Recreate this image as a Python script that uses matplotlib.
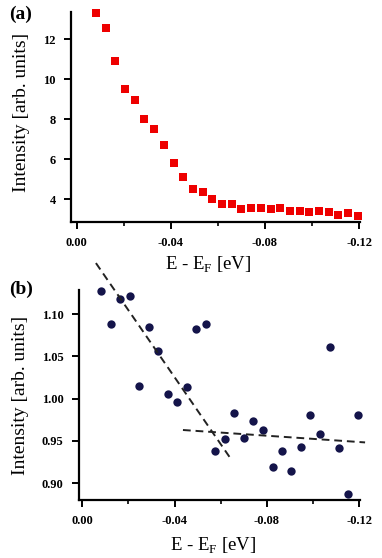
import numpy as np
import matplotlib
matplotlib.use('Agg')
import matplotlib.pyplot as plt
from matplotlib.ticker import MultipleLocator

plt.rcParams['font.family'] = ['Liberation Serif', 'DejaVu Serif']

# Energy axis (E - E_F, eV), same grid for both panels
energy = [-0.0083, -0.0124, -0.0165, -0.0206, -0.0247, -0.0288, -0.0330,
          -0.0371, -0.0412, -0.0453, -0.0494, -0.0535, -0.0577, -0.0618,
          -0.0659, -0.0700, -0.0741, -0.0783, -0.0824, -0.0865, -0.0906,
          -0.0947, -0.0988, -0.1030, -0.1071, -0.1112, -0.1153, -0.1194]

# Panel (a): intensity
intensity_a = [13.33, 12.58, 10.90, 9.50, 8.95, 8.00, 7.52, 6.73, 5.80, 5.10,
               4.50, 4.35, 4.02, 3.77, 3.77, 3.50, 3.55, 3.55, 3.52, 3.55,
               3.42, 3.42, 3.33, 3.40, 3.33, 3.18, 3.30, 3.13]

# Panel (b): normalised intensity
intensity_b = [1.128, 1.089, 1.118, 1.122, 1.015, 1.085, 1.056, 1.006, 0.996,
               1.014, 1.082, 1.089, 0.938, 0.952, 0.983, 0.954, 0.974, 0.963,
               0.919, 0.938, 0.914, 0.943, 0.981, 0.958, 1.061, 0.941, 0.887,
               0.981]

# dashed fit lines in panel (b): endpoints
fit1_x = [-0.0059, -0.0640]
fit1_y = [1.1606, 0.9301]
fit2_x = [-0.0436, -0.1225]
fit2_y = [0.9629, 0.9482]

xticks = [0.00, -0.04, -0.08, -0.12]
xticklabels = ['0.00', '-0.04', '-0.08', '-0.12']

W, H = 382, 558
fig = plt.figure(figsize=(W / 100, H / 100), dpi=100)
fig.patch.set_facecolor('white')

ax_a = fig.add_axes([71 / W, 1 - 222 / H, 289 / W, 210 / H])
ax_b = fig.add_axes([79 / W, 1 - 500 / H, 281 / W, 210 / H])


def style(ax):
    for s in ['top', 'right']:
        ax.spines[s].set_visible(False)
    for s in ['left', 'bottom']:
        ax.spines[s].set_linewidth(1.6)
    ax.set_xticks(xticks)
    ax.set_xticklabels(xticklabels)
    ax.xaxis.set_minor_locator(MultipleLocator(0.02))
    ax.tick_params(which='major', direction='out', length=5, width=1.4,
                   labelsize=9, pad=6)
    ax.tick_params(which='minor', axis='x', direction='out', length=3, width=1.2)
    for lab in ax.get_xticklabels() + ax.get_yticklabels():
        lab.set_fontweight('bold')
    ax.set_xlabel(r'E - E$_{\mathregular{F}}$ [eV]', fontsize=13.5)
    ax.set_ylabel('Intensity [arb. units]', fontsize=14)


# --- Panel (a) ---
ax_a.plot(energy, intensity_a, 's', color='#ee0000', markersize=5.2,
          markeredgewidth=0, clip_on=False)
ax_a.set_xlim(0.0024, -0.1204)
ax_a.set_ylim(2.85, 13.37)
ax_a.set_yticks([4, 6, 8, 10, 12])
style(ax_a)
ax_a.xaxis.set_label_coords(0.474, -0.155)
ax_a.yaxis.set_label_coords(-0.143, 0.52)
fig.text(9 / W, 1 - 14 / H, '(a)', fontsize=14, fontweight='bold',
         va='center', ha='left')

# --- Panel (b) ---
ax_b.plot(energy, intensity_b, 'o', color='#14144a', markersize=6,
          markeredgewidth=0, clip_on=False)
ax_b.plot(fit1_x, fit1_y, '--', color='#222222', linewidth=1.4,
          dashes=(4, 2.5), clip_on=False)
ax_b.plot(fit2_x, fit2_y, '--', color='#222222', linewidth=1.4,
          dashes=(4, 2.5), clip_on=False)
ax_b.set_xlim(0.00143, -0.1203)
ax_b.set_ylim(0.880, 1.1287)
ax_b.set_yticks([0.90, 0.95, 1.00, 1.05, 1.10])
ax_b.set_yticklabels(['0.90', '0.95', '1.00', '1.05', '1.10'])
style(ax_b)
ax_b.xaxis.set_label_coords(0.477, -0.17)
ax_b.yaxis.set_label_coords(-0.177, 0.5)
fig.text(9 / W, 1 - 289 / H, '(b)', fontsize=14, fontweight='bold',
         va='center', ha='left')

fig.savefig('out.png', dpi=100)
